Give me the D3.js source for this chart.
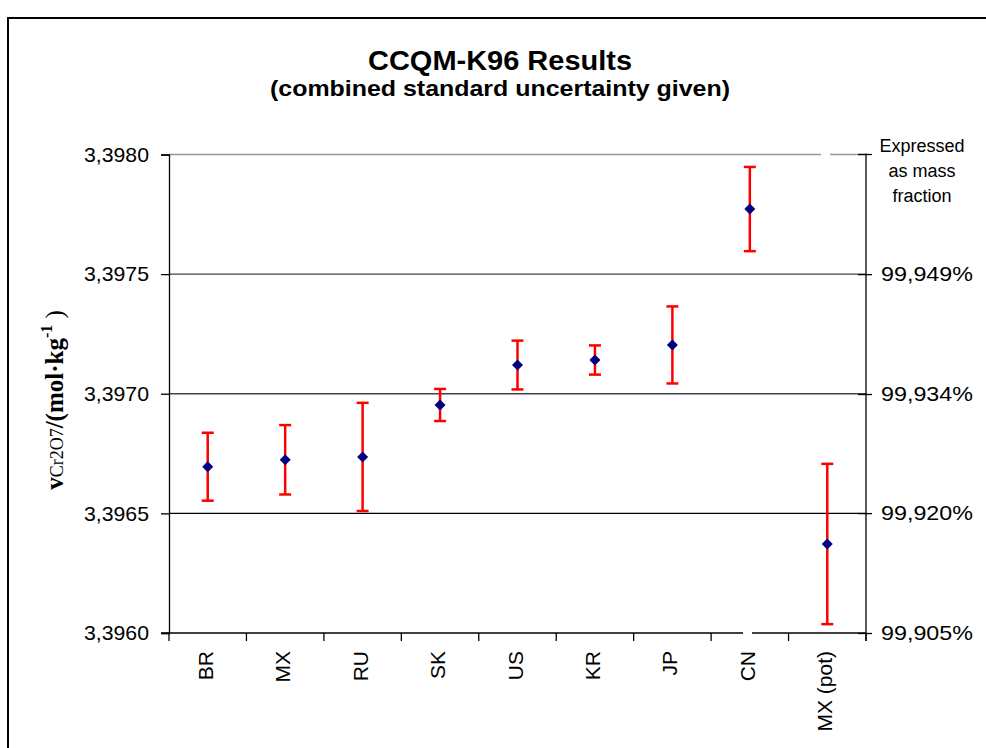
<!DOCTYPE html>
<html><head><meta charset="utf-8">
<script src="https://cdn.jsdelivr.net/npm/d3@7"></script>
<style>body{margin:0;background:#fff}svg{display:block}</style>
</head><body>
<svg id="c" width="986" height="748"></svg>
<script>
const categories = ["BR","MX","RU","SK","US","KR","JP","CN","MX (pot)"];
const values = [3.396695, 3.396724, 3.396736, 3.396953, 3.397120, 3.397141, 3.397204, 3.397772, 3.396372];
const uncertainties = [0.000142, 0.000145, 0.000226, 0.000067, 0.000102, 0.000061, 0.000161, 0.000176, 0.000335];
const leftTicks = [3.3960, 3.3965, 3.3970, 3.3975, 3.3980];
const rightTicks = [99.905, 99.9197, 99.9343, 99.949];
const titleText = "CCQM-K96 Results";
const subtitleText = "(combined standard uncertainty given)";

const SANS = "Arial, 'Liberation Sans', sans-serif";
const SERIF = "'Times New Roman', 'Liberation Serif', serif";
const svg = d3.select("#c").style("font-family", SANS);
const L = 169, R = 866, T = 154.5, B = 633;

// outer frame
svg.append("rect").attr("x",8).attr("y",18).attr("width",1000).attr("height",760)
  .attr("fill","none").attr("stroke","#000").attr("stroke-width",2);

const x = d3.scaleBand().domain(categories).range([L,R]).padding(0);
const y = d3.scaleLinear().domain([3.3960,3.3980]).range([B,T]);
const yR = d3.scaleLinear().domain([99.905, 99.905 + 0.002/0.0005*0.014667]).range([B,T]);

// gridlines
const gridColor = {3.3975:"#444", 3.397:"#444", 3.3965:"#000"};
svg.append("g").selectAll("line").data(leftTicks.filter(d=>d>3.3960 && d<3.3980)).join("line")
  .attr("x1",L).attr("x2",R).attr("y1",d=>y(d)).attr("y2",d=>y(d))
  .attr("stroke",d=>gridColor[d]||"#444").attr("stroke-width",1.3);
svg.append("line").attr("x1",L).attr("x2",R).attr("y1",y(3.3980)).attr("y2",y(3.3980))
  .attr("stroke","#999").attr("stroke-width",1.5);
svg.append("rect").attr("x",821).attr("y",y(3.3980)-2).attr("width",9).attr("height",4).attr("fill","#fff");

// left axis
const yAxis = d3.axisLeft(y).tickValues(leftTicks).tickSize(8).tickPadding(12)
  .tickFormat(d=>d3.format(".4f")(d).replace(".",","));
const gL = svg.append("g").attr("transform",`translate(${L},0)`).call(yAxis);
gL.select(".domain").attr("stroke","#000").attr("stroke-width",1.3);
gL.selectAll(".tick line").attr("stroke","#000").attr("stroke-width",1.3);
gL.selectAll(".tick text").attr("font-size",21).attr("fill","#000").attr("font-family",SANS)
  .attr("textLength",65).attr("lengthAdjust","spacingAndGlyphs");

// right axis
const yAxisR = d3.axisRight(yR).tickValues(rightTicks).tickSize(6).tickPadding(9)
  .tickFormat(d=>d3.format(".3f")(d).replace(".",",")+"%");
const gR = svg.append("g").attr("transform",`translate(${R},0)`).call(yAxisR);
gR.select(".domain").remove();
gR.selectAll(".tick line").attr("stroke","#000").attr("stroke-width",1.3).attr("x1",-8);
gR.selectAll(".tick text").attr("font-size",21).attr("fill","#000").attr("font-family",SANS)
  .attr("textLength",92).attr("lengthAdjust","spacingAndGlyphs");
svg.append("line").attr("x1",R).attr("x2",R).attr("y1",T-1).attr("y2",B+8).attr("stroke","#000").attr("stroke-width",1.3);
svg.append("line").attr("x1",R-8).attr("x2",R+6).attr("y1",T).attr("y2",T).attr("stroke","#000").attr("stroke-width",1.3);

// bottom axis
const gB = svg.append("g").attr("transform",`translate(0,${B})`);
gB.append("line").attr("x1",L-8).attr("x2",R).attr("stroke","#000").attr("stroke-width",1.3);
gB.append("rect").attr("x",743).attr("y",-2).attr("width",9).attr("height",4).attr("fill","#fff");
const bounds = categories.map(c=>x(c)).concat([R]);
gB.selectAll("line.t").data(bounds).join("line").attr("class","t")
  .attr("x1",d=>d).attr("x2",d=>d).attr("y1",0).attr("y2",8).attr("stroke","#000").attr("stroke-width",1.3);
gB.selectAll("text").data(categories).join("text")
  .attr("transform",d=>`translate(${x(d)+x.bandwidth()/2+5},18) rotate(-90)`)
  .attr("text-anchor","end").attr("font-size",21).attr("fill","#000").text(d=>d);

// error bars
const g = svg.append("g");
const idx = d3.range(categories.length);
const cx = i => x(categories[i]) + x.bandwidth()/2;
g.selectAll("line.e").data(idx).join("line").attr("class","e")
  .attr("x1",cx).attr("x2",cx).attr("y1",i=>y(values[i]+uncertainties[i])).attr("y2",i=>y(values[i]-uncertainties[i]))
  .attr("stroke","#ff0000").attr("stroke-width",2.5);
[1,-1].forEach(s=>{
  g.selectAll(null).data(idx).join("line")
    .attr("x1",i=>cx(i)-6).attr("x2",i=>cx(i)+6)
    .attr("y1",i=>y(values[i]+s*uncertainties[i])).attr("y2",i=>y(values[i]+s*uncertainties[i]))
    .attr("stroke","#ff0000").attr("stroke-width",2.5);
});
g.selectAll("path.d").data(idx).join("path").attr("class","d")
  .attr("d",i=>{const X=cx(i),Y=y(values[i]),r=5.5;return `M${X},${Y-r}L${X+r},${Y}L${X},${Y+r}L${X-r},${Y}Z`;})
  .attr("fill","#000080");

// titles
svg.append("text").attr("x",500).attr("y",70).attr("text-anchor","middle")
  .attr("font-size",27).attr("font-weight","bold").attr("textLength",264).attr("lengthAdjust","spacingAndGlyphs").text(titleText);
svg.append("text").attr("x",500).attr("y",96).attr("text-anchor","middle")
  .attr("font-size",22).attr("font-weight","bold").attr("textLength",460).attr("lengthAdjust","spacingAndGlyphs").text(subtitleText);

// right header
const hdr = ["Expressed","as mass","fraction"];
svg.append("g").selectAll("text").data(hdr).join("text")
  .attr("x",922).attr("y",(d,i)=>152+i*25).attr("text-anchor","middle").attr("font-size",18).text(d=>d);

// y axis title
const yt = svg.append("text").attr("transform","translate(63,400) rotate(-90)").attr("text-anchor","middle")
  .style("font-family",SERIF);
yt.append("tspan").attr("font-weight","bold").attr("font-size",25).text("v");
yt.append("tspan").attr("font-size",18).text("Cr2O7");
yt.append("tspan").attr("font-weight","bold").attr("font-size",25).text("/(mol·kg");
yt.append("tspan").attr("font-weight","bold").attr("font-size",16).attr("dy",-11).text("-1");
yt.append("tspan").attr("font-size",25).attr("dy",11).text(" )");
</script>
</body></html>
